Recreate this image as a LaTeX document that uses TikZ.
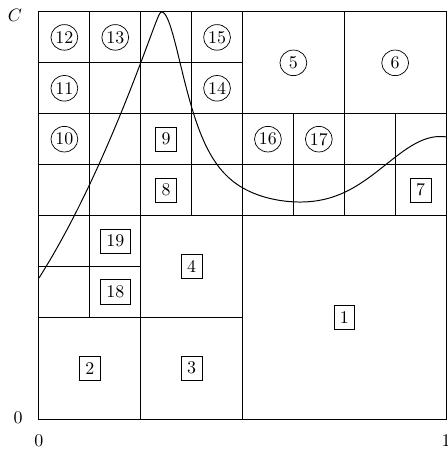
\documentclass[tikz,border=0pt]{standalone}
\usetikzlibrary{shapes.geometric}
\begin{document}
\begin{tikzpicture}[x=1cm,y=1cm,
  gridline/.style={line width=0.55pt},
  cl/.style={draw,ellipse,inner sep=0pt,minimum width=15pt,minimum height=14.3pt},
  bl/.style={draw,rectangle,inner sep=3.3pt},
  curveline/.style={line width=0.55pt}]
\useasboundingbox (-0.765,-0.647) rectangle (8.02,8.235);
% outer square and main division
\draw[gridline] (0,0) rectangle (8,8);
\draw[gridline] (4,0) -- (4,8);
\draw[gridline] (0,4) -- (8,4);
% bottom-left quadrant
\draw[gridline] (0,2) -- (4,2);
\draw[gridline] (2,0) -- (2,4);
\draw[gridline] (1,2) -- (1,4);
\draw[gridline] (0,3) -- (2,3);
% top-left quadrant
\foreach \k in {1,2,3} {
  \draw[gridline] (\k,4) -- (\k,8);
  \draw[gridline] (0,4+\k) -- (4,4+\k);
}
% top-right quadrant
\draw[gridline] (4,6) -- (8,6);
\draw[gridline] (6,4) -- (6,8);
\draw[gridline] (4,5) -- (8,5);
\draw[gridline] (5,4) -- (5,6);
\draw[gridline] (7,4) -- (7,6);
% curve
\draw[curveline]
  plot[domain=0:2.41,samples=120,variable=\t]
    ({\t},{8 - (2.88*(sqrt((2.41-\t)*(2.41-\t)+0.0025)-0.05) - 0.27*(2.41-\t)*(2.41-\t))})
  -- plot[domain=2.41:8,samples=200,variable=\t]
    ({\t},{4 + 4/(1+((\t-2.41)/0.63)*((\t-2.41)/0.63)) + 1.5*exp(-((\t-7.9)/1.55)*((\t-7.9)/1.55))});
% boxed labels
\node[bl] (n1) at (6,2) {1};
\node[bl] (n2) at (1,1) {2};
\node[bl] (n3) at (3,1) {3};
\node[bl] (n4) at (3,3) {4};
\node[bl] (n7) at (7.5,4.5) {7};
\node[bl] (n8) at (2.5,4.5) {8};
\node[bl] (n9) at (2.5,5.5) {9};
\node[bl] (n18) at (1.5,2.5) {18};
\node[bl] (n19) at (1.5,3.5) {19};
% circled labels
\node[cl] (n5) at (5,7) {5};
\node[cl] (n6) at (7,7) {6};
\node[cl] (n10) at (0.5,5.5) {10};
\node[cl] (n11) at (0.5,6.5) {11};
\node[cl] (n12) at (0.5,7.5) {12};
\node[cl] (n13) at (1.5,7.5) {13};
\node[cl] (n14) at (3.5,6.5) {14};
\node[cl] (n15) at (3.5,7.5) {15};
\node[cl] (n16) at (4.5,5.5) {16};
\node[cl] (n17) at (5.5,5.5) {17};
% axis labels
\node (lC) at (-0.47,7.94) {$C$};
\node (l0y) at (-0.41,0.02) {0};
\node (l0x) at (0,-0.43) {0};
\node (l1x) at (8,-0.43) {1};
\end{tikzpicture}
\end{document}
